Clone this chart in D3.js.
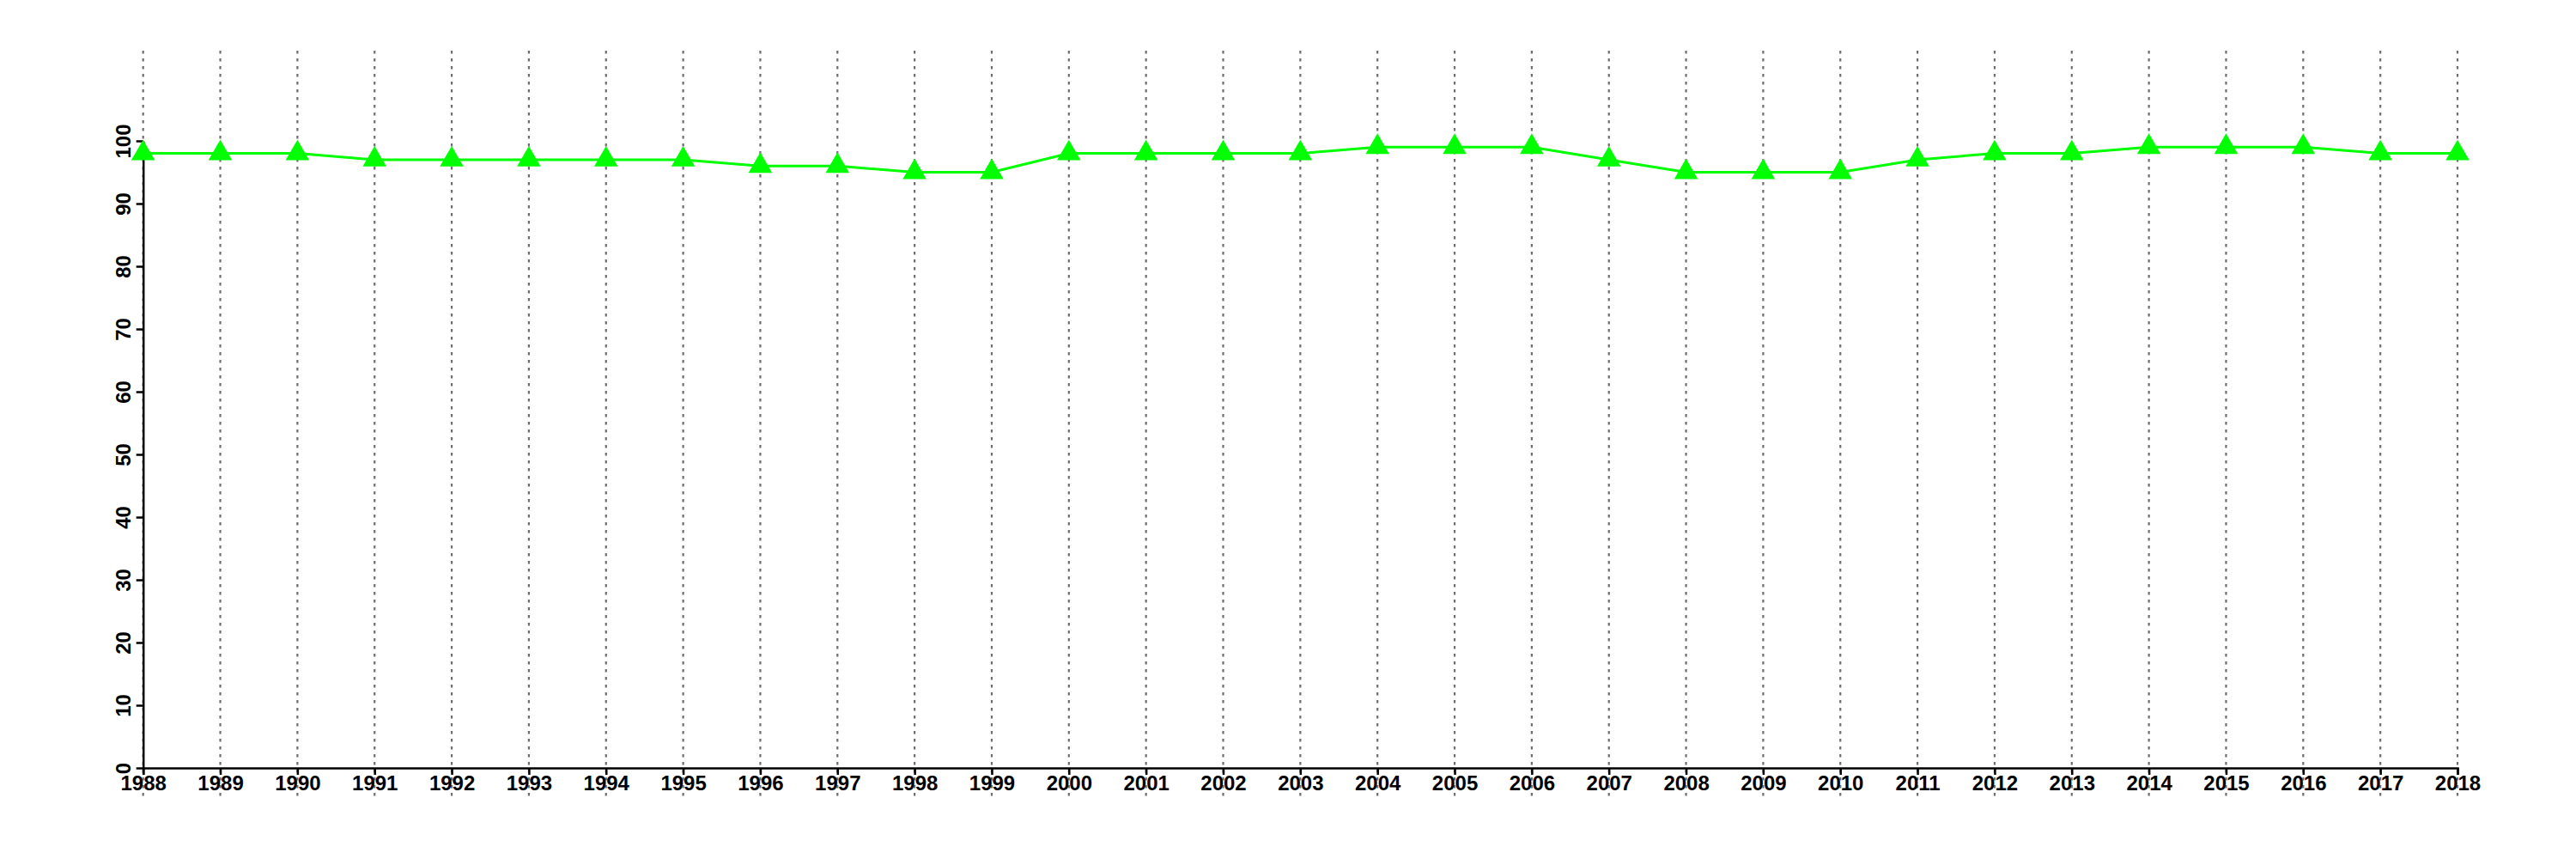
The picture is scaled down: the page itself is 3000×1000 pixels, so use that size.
<!DOCTYPE html>
<html>
<head>
<meta charset="utf-8">
<script src="https://cdn.jsdelivr.net/npm/d3@7"></script>
<style>
html,body{margin:0;padding:0;background:#fff;}
svg{display:block;}
text{font-family:"Liberation Sans",Arial,Helvetica,sans-serif;font-weight:bold;fill:#000;}
</style>
</head>
<body>
<svg id="chart" width="3000" height="1000"></svg>
<script>
const years = [1988,1989,1990,1991,1992,1993,1994,1995,1996,1997,1998,1999,2000,2001,2002,2003,2004,2005,2006,2007,2008,2009,2010,2011,2012,2013,2014,2015,2016,2017,2018];
const values = [98,98,98,97,97,97,97,97,96,96,95,95,98,98,98,98,99,99,99,97,95,95,95,97,98,98,99,99,99,98,98];
const yTicks = [0,10,20,30,40,50,60,70,80,90,100];

const svg = d3.select("#chart");
const x = d3.scaleLinear().domain([1988, 2018]).range([166.7, 2862]);
const y = d3.scaleLinear().domain([0, 100]).range([894, 164]);

// vertical dotted grid lines
svg.append("g").selectAll("line").data(years).join("line")
  .attr("x1", d => x(d)).attr("x2", d => x(d))
  .attr("y1", 59).attr("y2", 928)
  .attr("stroke", "#6e6e6e").attr("stroke-width", 2.2)
  .attr("stroke-dasharray", "3.5,5.5");

// x axis
const xAxis = svg.append("g").attr("transform", "translate(0,894)")
  .call(d3.axisBottom(x).tickValues(years).tickFormat(d3.format("d")).tickSize(8).tickPadding(2));
xAxis.select(".domain").attr("stroke", "#000").attr("stroke-width", 2.5);
xAxis.selectAll(".tick line").attr("stroke", "#000").attr("stroke-width", 2.5);
xAxis.selectAll(".tick text").attr("font-size", 24).attr("font-family", "Liberation Sans").attr("font-weight", "bold").attr("fill", "#000").attr("dy", null).attr("y", 26);

// y axis
const yAxis = svg.append("g").attr("transform", "translate(166.7,0)")
  .call(d3.axisLeft(y).tickValues(yTicks).tickSize(8).tickSizeOuter(0));
yAxis.select(".domain").attr("stroke", "#000").attr("stroke-width", 2.5);
yAxis.selectAll(".tick line").attr("stroke", "#000").attr("stroke-width", 2.5);
yAxis.selectAll(".tick text")
  .attr("font-size", 24).attr("font-family", "Liberation Sans").attr("font-weight", "bold").attr("fill", "#000")
  .attr("x", null).attr("dy", null)
  .attr("text-anchor", "middle")
  .attr("transform", "translate(-14.7,0) rotate(-90)")
  .attr("y", 0);

// line
const line = d3.line().x((d, i) => x(years[i])).y(d => y(d));
svg.append("path").datum(values)
  .attr("d", line).attr("fill", "none")
  .attr("stroke", "#00ff00").attr("stroke-width", 3);

// triangles
const sym = d3.symbol().type(d3.symbolTriangle).size(330);
svg.append("g").selectAll("path").data(values).join("path")
  .attr("d", sym)
  .attr("transform", (d, i) => `translate(${x(years[i])},${y(d)})`)
  .attr("fill", "#00ff00");
</script>
</body>
</html>
